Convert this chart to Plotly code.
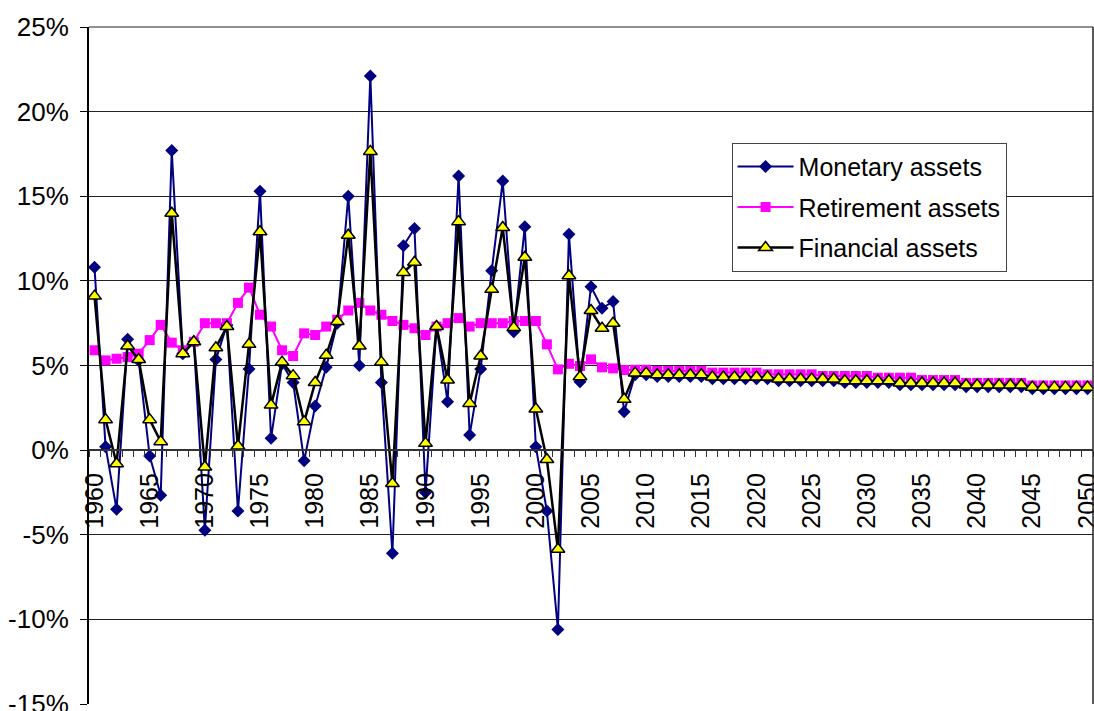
import plotly.graph_objects as go

years = list(range(1960, 2051))

# Annual growth rates, percent
monetary = [
    10.8, 0.2, -3.5, 6.55, 5.3, -0.35, -2.66, 17.7, 5.7, 6.4,
    -4.73, 5.35, 7.4, -3.6, 4.8, 15.3, 0.7, 5.1, 4.0, -0.63,
    2.6, 4.9, 7.5, 15.0, 5.0, 22.1, 4.0, -6.1, 12.07, 13.1,
    -2.5, 7.3, 2.86, 16.2, 0.89, 4.8, 10.6, 15.9, 7.0, 13.2,
    0.2, -3.6, -10.6, 12.75, 4.04, 9.66, 8.38, 8.78, 2.27, 4.45,
    4.45, 4.35, 4.35, 4.35, 4.35, 4.35, 4.22, 4.22, 4.22, 4.22,
    4.22, 4.22, 4.1, 4.1, 4.1, 4.1, 4.1, 4.1, 4.0, 4.0,
    4.0, 4.0, 4.0, 3.87, 3.87, 3.87, 3.87, 3.87, 3.87, 3.75,
    3.75, 3.75, 3.75, 3.75, 3.75, 3.62, 3.62, 3.62, 3.62, 3.62,
    3.62,
]

retirement = [
    5.9, 5.3, 5.4, 5.5, 5.7, 6.5, 7.4, 6.35, 5.9, 6.4,
    7.5, 7.5, 7.5, 8.7, 9.6, 8.0, 7.3, 5.9, 5.56, 6.9,
    6.8, 7.3, 7.7, 8.25, 8.7, 8.25, 8.0, 7.63, 7.4, 7.2,
    6.8, 7.3, 7.5, 7.8, 7.3, 7.5, 7.5, 7.5, 7.63, 7.63,
    7.63, 6.25, 4.77, 5.1, 4.97, 5.36, 4.89, 4.83, 4.73, 4.75,
    4.75, 4.68, 4.68, 4.68, 4.68, 4.68, 4.58, 4.58, 4.58, 4.58,
    4.58, 4.48, 4.48, 4.48, 4.48, 4.48, 4.38, 4.38, 4.38, 4.38,
    4.38, 4.28, 4.28, 4.28, 4.28, 4.14, 4.14, 4.14, 4.14, 3.97,
    3.97, 3.97, 3.97, 3.97, 3.97, 3.82, 3.82, 3.82, 3.82, 3.82,
    3.82,
]

financial = [
    9.1, 1.8, -0.8, 6.15, 5.35, 1.8, 0.5, 14.0, 5.7, 6.4,
    -1.0, 6.05, 7.3, 0.24, 6.25, 12.9, 2.66, 5.2, 4.4, 1.67,
    4.0, 5.6, 7.6, 12.7, 6.15, 17.65, 5.2, -1.97, 10.5, 11.1,
    0.4, 7.3, 4.14, 13.5, 2.76, 5.56, 9.5, 13.15, 7.24, 11.4,
    2.43, -0.55, -5.86, 10.3, 4.34, 8.25, 7.2, 7.5, 3.0, 4.55,
    4.55, 4.45, 4.45, 4.45, 4.45, 4.45, 4.32, 4.32, 4.32, 4.32,
    4.32, 4.32, 4.2, 4.2, 4.2, 4.2, 4.2, 4.2, 4.1, 4.1,
    4.1, 4.1, 4.1, 3.97, 3.97, 3.97, 3.97, 3.97, 3.97, 3.85,
    3.85, 3.85, 3.85, 3.85, 3.85, 3.72, 3.72, 3.72, 3.72, 3.72,
    3.72,
]

y_ticks = [-15, -10, -5, 0, 5, 10, 15, 20, 25]
y_tick_text = ["-15%", "-10%", "-5%", "0%", "5%", "10%", "15%", "20%", "25%"]
x_label_years = list(range(1960, 2051, 5))

FONT = "Liberation Sans, Arial, sans-serif"

fig = go.Figure()
fig.add_trace(go.Scatter(
    x=years, y=monetary, name="Monetary assets", mode="lines+markers",
    line=dict(color="#000080", width=2),
    marker=dict(symbol="diamond", size=10, color="#000080"),
    legendgroup="m",
))
fig.add_trace(go.Scatter(
    x=years, y=retirement, name="Retirement assets", mode="lines+markers",
    line=dict(color="#FF00FF", width=2),
    marker=dict(symbol="square", size=10, color="#FF00FF"),
    legendgroup="r",
))
fig.add_trace(go.Scatter(
    x=years, y=financial, name="Financial assets", mode="lines+markers",
    line=dict(color="#000000", width=2.5),
    marker=dict(symbol="triangle-up", size=12, color="#FFFF00",
                line=dict(color="#000000", width=1.5)),
    legendgroup="f",
))

fig.update_layout(
    width=1094, height=711,
    margin=dict(l=89, r=1, t=27, b=7),
    paper_bgcolor="white", plot_bgcolor="white",
    font=dict(family=FONT, size=25, color="black"),
    showlegend=True,
    legend=dict(
        x=0.640, y=0.829, xanchor="left", yanchor="top",
        bgcolor="white", bordercolor="#444", borderwidth=1,
        font=dict(family=FONT, size=25, color="black"),
        itemwidth=56, tracegroupgap=5,
    ),
    xaxis=dict(
        range=[1959.5, 2050.5],
        anchor="free", position=0.375,
        automargin=False,
        showgrid=False, zeroline=False,
        showline=True, linecolor="#333", linewidth=2,
        tickmode="array", tickvals=x_label_years,
        ticktext=[str(v) for v in x_label_years],
        ticks="", tickangle=-90, ticklabelstandoff=12,
        ticklabeloverflow="allow",
        tickfont=dict(family=FONT, size=25, color="black"),
        minor=dict(tickmode="array",
                   tickvals=[y + 0.5 for y in range(1959, 2051)],
                   ticks="outside", ticklen=6, tickwidth=1, tickcolor="#333",
                   showgrid=False),
    ),
    yaxis=dict(
        range=[-15, 25],
        automargin=False,
        tickmode="array", tickvals=y_ticks, ticktext=y_tick_text,
        showgrid=True, gridcolor="#222", gridwidth=1,
        zeroline=False,
        showline=True, linecolor="black", linewidth=2,
        ticks="outside", ticklen=7, tickcolor="black", tickwidth=1,
        ticklabelstandoff=6, ticklabeloverflow="allow",
        tickfont=dict(family=FONT, size=26, color="black"),
    ),
)

# top gridline and right-hand border of the plot area
fig.add_shape(type="line", xref="paper", yref="paper", x0=0, x1=1, y0=1, y1=1,
              line=dict(color="#222", width=1))
fig.add_shape(type="line", xref="paper", yref="paper", x0=1, x1=1, y0=0, y1=1,
              line=dict(color="#222", width=1.5))

fig.write_html("out.html")
